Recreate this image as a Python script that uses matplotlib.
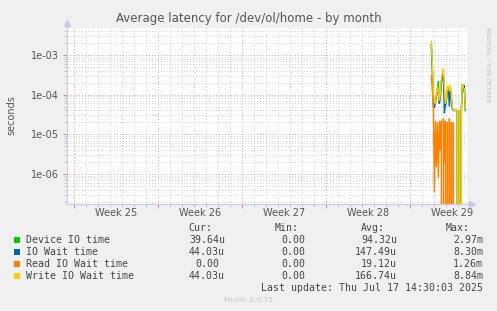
import numpy as np
import matplotlib
matplotlib.use('Agg')
import matplotlib.pyplot as plt
from matplotlib import ticker
from matplotlib.patches import Rectangle

W, H = 497, 311

# ---------------- data ----------------
series_names = ["Device IO time", "IO Wait time", "Read IO Wait time", "Write IO Wait time"]
colors = ["#00CC00", "#0066B3", "#FF8000", "#FFCC00"]

# samples every 2 hours (values in seconds), 0 = zero latency
device_io = [1.5e-3, 4e-4, 9e-5, 6e-5, 6e-5, 9e-5, 1.3e-4, 2.2e-4, 6e-5, 9e-5,
             1.8e-4, 2.5e-4, 3e-4, 1.2e-4, 5e-5, 7e-5, 1.2e-4, 1.4e-4, 1e-4, 1.3e-4,
             7e-5, 4.5e-5, 4e-5, 4e-5, 4e-5, 4e-5, 4e-5, 0, 3.5e-5, 0,
             4.5e-5, 1.5e-4, 1.2e-4, 1.4e-4, 3.96e-5]
io_wait = [1.8e-3, 5e-4, 5e-5, 4.7e-5, 6e-5, 9e-5, 1.4e-4, 1.1e-4, 6e-5, 1e-4,
           2.2e-4, 3e-4, 4e-4, 3.4e-5, 5.5e-5, 7.5e-5, 1.3e-4, 1.6e-4, 5e-5, 1.5e-4,
           8e-5, 4.5e-5, 4e-5, 4e-5, 4e-5, 4e-5, 4e-5, 0, 4e-5, 0,
           4.5e-5, 1.8e-4, 1.4e-4, 1.7e-4, 4.4e-5]
read_wait = [3e-4, 1.2e-4, 5e-5, 3.5e-7, 2.2e-5, 1.5e-6, 2e-5, 8e-7, 2.2e-5, 4e-6,
             2.2e-5, 0, 2.5e-5, 2e-6, 2.2e-5, 0, 2e-5, 0, 2.5e-5, 0,
             2e-5, 0, 2e-5, 0, 0, 0, 0, 0, 0, 0,
             0, 0, 0, 0, 0]
write_wait = [2.2e-3, 6e-4, 1.2e-4, 7e-5, 6e-5, 1e-4, 1.6e-4, 1.2e-4, 7e-5, 1.1e-4,
              2.5e-4, 3.5e-4, 4.5e-4, 1.5e-4, 6e-5, 8e-5, 1.4e-4, 1.7e-4, 1.2e-4, 1.7e-4,
              9e-5, 5e-5, 4e-5, 4e-5, 4e-5, 4e-5, 4e-5, 0, 4e-5, 0,
              4.5e-5, 1.9e-4, 1.5e-4, 1.4e-4, 4.4e-5]

cur_vals = ["39.64u", "44.03u", "0.00", "44.03u"]
min_vals = ["0.00", "0.00", "0.00", "0.00"]
avg_vals = ["94.32u", "147.49u", "19.12u", "166.74u"]
max_vals = ["2.97m", "8.30m", "1.26m", "8.84m"]
week_labels = ["Week 25", "Week 26", "Week 27", "Week 28", "Week 29"]

# time axis: days since Monday of Week 25
first_sample_day = 29.75
sample_step = 2.0 / 24.0
t = first_sample_day + sample_step * np.arange(len(device_io))

# ---------------- figure ----------------
fig = plt.figure(figsize=(W / 100, H / 100), dpi=100, facecolor="#F0F0F0")
ax = fig.add_axes([67 / W, 1 - 204 / H, 400 / W, 176 / H])
ax.set_facecolor("white")
ax.set_yscale("log", nonpositive="clip")
ax.set_xlim(-0.61, 32.72)
ax.set_ylim(10 ** -6.75, 10 ** -2.325)

ax.xaxis.set_major_locator(ticker.MultipleLocator(7))
ax.xaxis.set_minor_locator(ticker.MultipleLocator(1))
ax.xaxis.set_major_formatter(ticker.NullFormatter())
ax.yaxis.set_major_locator(ticker.LogLocator(base=10, numticks=20))
ax.yaxis.set_minor_locator(ticker.LogLocator(base=10, subs=np.arange(2, 10), numticks=20))
ax.yaxis.set_major_formatter(ticker.FuncFormatter(lambda v, p: f"{v:.0e}"))
ax.yaxis.set_minor_formatter(ticker.NullFormatter())

ax.grid(True, which="minor", color="#CFCFCF", linestyle=(0, (1, 2)), linewidth=0.7)
ax.grid(True, which="major", color="#E8A0A0", linestyle=(0, (1, 2)), linewidth=0.7)
ax.set_axisbelow(True)

ax.tick_params(axis="both", which="major", length=3, width=0.7, color="#E08080",
               direction="out", labelsize=7, labelcolor="#555555", pad=3)
ax.tick_params(axis="both", which="minor", length=2, width=0.7, color="#C8C8C8",
               direction="out")

for s in ["top", "right"]:
    ax.spines[s].set_visible(False)
for s in ["left", "bottom"]:
    ax.spines[s].set_color("#C8C8F0")
    ax.spines[s].set_linewidth(0.8)

# arrows on axes
ax.plot([0, 0], [1.0, 1.025], color="#C8C8F0", lw=0.8, transform=ax.transAxes, clip_on=False)
ax.plot([1.0, 1.01], [0, 0], color="#C8C8F0", lw=0.8, transform=ax.transAxes, clip_on=False)
ax.plot([0], [1.03], marker="^", markersize=4, color="#C8C8F0", transform=ax.transAxes, clip_on=False)
ax.plot([1.012], [0], marker=">", markersize=4, color="#C8C8F0", transform=ax.transAxes, clip_on=False)

# week labels at mid-week
for i, lab in enumerate(week_labels):
    ax.text(3.5 + 7 * i, 1 - 212.5 / H, lab, transform=ax.get_xaxis_transform() if False else
            matplotlib.transforms.blended_transform_factory(ax.transData, fig.transFigure),
            ha="center", va="center", fontsize=7, color="#555555")

# data lines
for vals, c in zip([device_io, io_wait, read_wait, write_wait], colors):
    ax.plot(t, vals, color=c, lw=1.0, solid_joinstyle="miter")

# ---------------- texts ----------------
fig.text(248.5 / W, 1 - 18.5 / H, "Average latency for /dev/ol/home - by month",
         ha="center", va="center", fontsize=8.5, color="#555555")
fig.text(11 / W, 1 - 115 / H, "seconds", rotation=90, ha="center", va="center",
         fontsize=7, color="#555555")
fig.text(488.5 / W, 1 - 65 / H, "RRDTOOL / TOBI OETIKER", rotation=270, ha="center",
         va="center", fontsize=4.2, color="#BBBBBB")

mono = dict(family="DejaVu Sans Mono", fontsize=7.1, color="#444444", va="center")
hy = 1 - 228 / H
fig.text(212.7 / W, hy, "Cur:", ha="right", **mono)
fig.text(299 / W, hy, "Min:", ha="right", **mono)
fig.text(385 / W, hy, "Avg:", ha="right", **mono)
fig.text(470 / W, hy, "Max:", ha="right", **mono)

for i, name in enumerate(series_names):
    yc = 240 + 12 * i
    fy = 1 - yc / H
    fig.add_artist(Rectangle((14 / W, 1 - (yc + 3) / H), 6 / W, 6 / H,
                             transform=fig.transFigure, facecolor=colors[i], edgecolor="none"))
    fig.text(26 / W, fy, name, ha="left", **mono)
    cx = 225 if cur_vals[i].endswith(("u", "m")) else 219
    fig.text(cx / W, fy, cur_vals[i], ha="right", **mono)
    fig.text(305 / W, fy, min_vals[i], ha="right", **mono)
    fig.text(397 / W, fy, avg_vals[i], ha="right", **mono)
    fig.text(483 / W, fy, max_vals[i], ha="right", **mono)

fig.text(483 / W, 1 - 288 / H, "Last update: Thu Jul 17 14:30:03 2025", ha="right", **mono)
fig.text(248 / W, 1 - 300 / H, "Munin 2.0.75", ha="center", va="center",
         fontsize=5.4, color="#C4C4C4")

fig.savefig("out.png", dpi=100, facecolor=fig.get_facecolor())
